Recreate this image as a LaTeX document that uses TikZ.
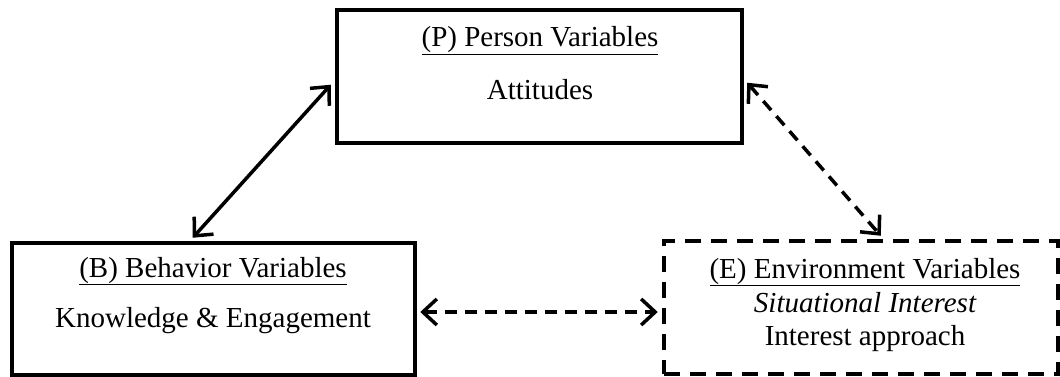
\documentclass[tikz,border=0pt]{standalone}
\usepackage{fontspec}
\setmainfont{Liberation Serif}
\usetikzlibrary{arrows.meta}
\begin{document}
\begin{tikzpicture}[x=1pt,y=1pt,
  box/.style={draw,line width=4.5pt,inner sep=0pt},
  dbox/.style={box,dash pattern=on 16pt off 10pt},
  txt/.style={anchor=base,inner sep=0pt,font=\fontsize{29}{34}\selectfont},
  conn/.style={line width=3.5pt,{Straight Barb[length=14pt,width=26pt,line width=3.5pt]}-{Straight Barb[length=14pt,width=26pt,line width=3.5pt]}},
  dconn/.style={conn,dash pattern=on 12pt off 8pt}]
\useasboundingbox (0,0) rectangle (1060,-377);
\node[box,minimum width=405pt,minimum height=133pt] (P) at (539.5,-76.5) {};
\node[box,minimum width=403pt,minimum height=132pt] (B) at (213.5,-309) {};
\node[dbox,minimum width=394pt,minimum height=133pt] (E) at (861,-307.5) {};
\node[txt] (p1) at (540,-47) {\underline{(P) Person Variables}};
\node[txt] (p2) at (540,-100) {Attitudes};
\node[txt] (b1) at (213,-277) {\underline{(B) Behavior Variables}};
\node[txt] (b2) at (213,-327) {Knowledge \& Engagement};
\node[txt] (e1) at (865,-278) {\underline{(E) Environment Variables}};
\node[txt] (e2) at (865,-312) {\itshape Situational Interest};
\node[txt] (e3) at (865,-345) {Interest approach};
\draw[conn] ([xshift=183pt,yshift=3pt]B.north west) -- ([xshift=-4pt,yshift=-77pt]P.north west);
\draw[dconn] ([xshift=3pt,yshift=-75pt]P.north east) -- ([xshift=219pt,yshift=3pt]E.north west);
\draw[dconn] ([xshift=3pt,yshift=-3pt]B.east) -- ([xshift=-4pt,yshift=-4.5pt]E.west);
\end{tikzpicture}
\end{document}
